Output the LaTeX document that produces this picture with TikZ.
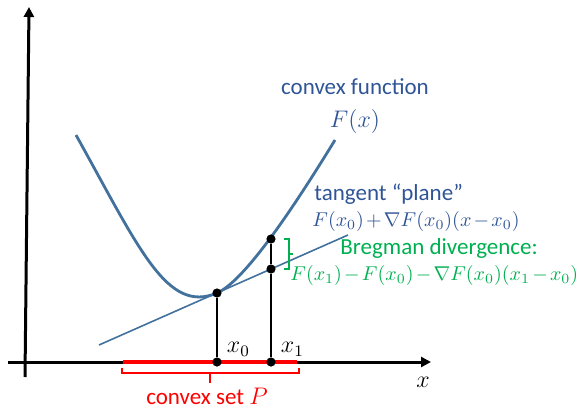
\documentclass[tikz,border=0pt]{standalone}
\usepackage{amsmath,amssymb}
\usepackage{fontspec}
\setmainfont{Carlito}
\usepackage{tikz}
\usetikzlibrary{positioning,arrows.meta}
\definecolor{txtblue}{HTML}{2F5597}
\definecolor{fnblue}{HTML}{41719C}
\definecolor{brgreen}{HTML}{00B050}
\medmuskip=2mu
\begin{document}
\begin{tikzpicture}[x=0.5pt,y=-0.5pt,
  axis/.style={line width=1.5pt,-{Triangle[length=5pt,width=5pt]}},
  dot/.style={circle,fill=black,inner sep=0pt,minimum size=4.6pt},
  lbl/.style={font=\fontsize{11.5}{14}\selectfont,inner sep=0pt},
  fml/.style={font=\fontsize{10}{12}\selectfont,inner sep=0pt,anchor=west}]
\useasboundingbox (0,0) rectangle (585,408);
\coordinate (xs) at (8,362);  \coordinate (xe) at (431,362);
\coordinate (ys) at (25,377); \coordinate (ye) at (29,7);
\coordinate (ps) at (123,362); \coordinate (pe) at (297,362);
\coordinate (ts) at (99,345); \coordinate (te) at (348,235);
\draw[axis] (xs) -- (xe);
\draw[axis] (ys) -- (ye);
\draw[red,line width=2pt] (ps) -- (pe);
\draw[fnblue,line width=1.4pt] (76,135) .. controls (140,250) and (167,314) .. (217,293)
  .. controls (240,283) and (280,230) .. (335,140);
\draw[fnblue,line width=0.8pt] (ts) -- (te);
\node[dot] (f0) at (217,293) {};
\node[dot] (f1) at (271,239) {};
\node[dot] (t1) at (271,269) {};
\node[dot] (a0) at (217,362) {};
\node[dot] (a1) at (271,362) {};
\draw[line width=1pt] (f0) -- (a0);
\draw[line width=1pt] (f1) -- (t1) -- (a1);
\node[lbl,above right=1pt and 3pt of a0] (x0lbl) {$x_0$};
\node[lbl,above right=1pt and 3pt of a1] (x1lbl) {$x_1$};
\node[lbl] (xlbl) at (423,382) {$x$};
\draw[brgreen,line width=1pt] (284,239) -- (289,239) -- (289,269) -- (284,269)
  (289,254) -- (293,254);
\draw[red,line width=1pt] (122,368) -- (122,373) -- (299,373) -- (299,368)
  (210,373) -- (210,383);
\node[lbl,red] (setlbl) at (207,396) {convex set $P$};
\node[lbl,txtblue] (fnlbl) at (355,87) {convex function};
\node[lbl,txtblue,below=7pt of fnlbl] (fxlbl) {$F(x)$};
\node[lbl,txtblue,anchor=west] (tanlbl) at (314,194) {tangent “plane”};
\node[fml,txtblue] (tanfml) at (312,221) {$F(x_0)+\nabla F(x_0)(x-x_0)$};
\node[lbl,brgreen,anchor=west] (brlbl) at (340,248) {Bregman divergence:};
\node[fml,brgreen] (brfml) at (290,275) {$F(x_1)-F(x_0)-\nabla F(x_0)(x_1-x_0)$};
\end{tikzpicture}
\end{document}
